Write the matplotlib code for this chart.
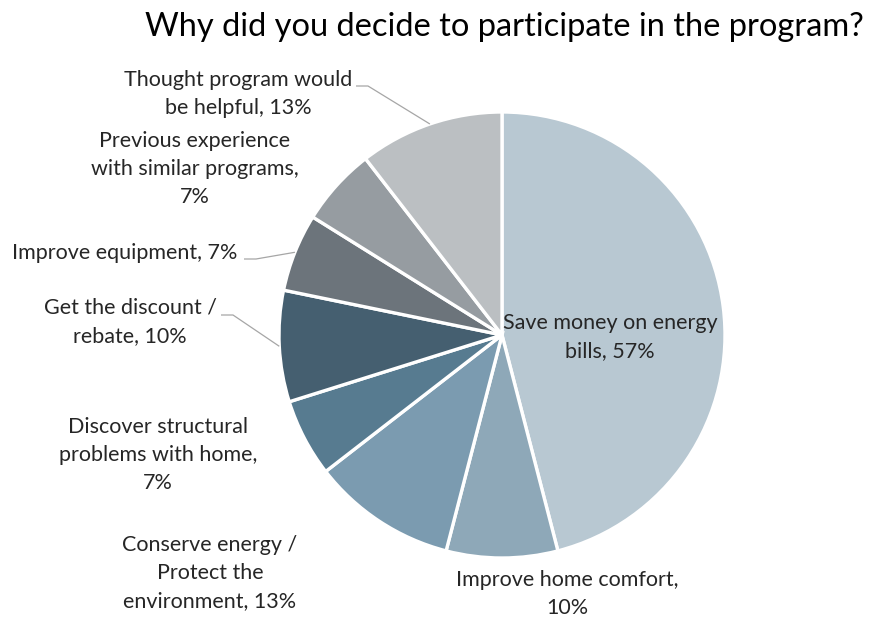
import numpy as np
import matplotlib.pyplot as plt

# survey answers, multiple responses allowed (shares add up past 100)
reasons = [
    "Save money on energy\nbills",
    "Improve home comfort,\n",
    "Conserve energy /\nProtect the\nenvironment",
    "Discover structural\nproblems with home,\n",
    "Get the discount /\nrebate",
    "Improve equipment",
    "Previous experience\nwith similar programs,\n",
    "Thought program would\nbe helpful",
]
shares = [57, 10, 13, 7, 10, 7, 7, 13]
colors = ["#b8c8d2", "#8ea8b8", "#7b9bb0", "#577b90", "#455f70",
          "#6c747b", "#969ca1", "#bbbfc2"]

# label anchors in figure pixels (y measured from the top)
label_pos = [(610, 337), (567, 594), (210, 573), (158, 455),
             (130, 322), (125, 253), (195, 169), (238, 94)]
# labels joined to their slice by a thin leader line: (start x, start y)
leaders = {4: (221, 315), 5: (244, 259), 7: (356, 86)}

W, H = 872, 618
cx, cy, r = 502, 335, 223

plt.rcParams["font.family"] = ["Lato", "DejaVu Sans"]
txt_color = "#262626"

fig = plt.figure(figsize=(W / 100, H / 100), dpi=100)
ax = fig.add_axes([0, 0, 1, 1])

ax.pie(shares, colors=colors, startangle=90, counterclock=False,
       center=(cx, H - cy), radius=r,
       wedgeprops=dict(edgecolor="white", linewidth=2.4))
ax.set_xlim(0, W)
ax.set_ylim(0, H)
ax.set_aspect("equal")
ax.axis("off")

total = sum(shares)
cum = np.cumsum([0] + shares)
for i, (name, val) in enumerate(zip(reasons, shares)):
    x, y = label_pos[i]
    if name.endswith("\n"):
        text = f"{name}{val}%"
    else:
        text = f"{name}, {val}%"
    ax.text(x, H - y, text, ha="center", va="center", fontsize=15.5,
            color=txt_color, linespacing=1.5)

    if i in leaders:
        # midpoint of the slice on the rim, clockwise from 12 o'clock
        mid = (cum[i] + cum[i + 1]) / 2 / total * 2 * np.pi
        ex = cx + r * np.sin(mid)
        ey = cy - r * np.cos(mid)
        sx, sy = leaders[i]
        ax.plot([sx, sx + 12, ex], [H - sy, H - sy, H - ey],
                color="#a6a6a6", lw=0.9, solid_capstyle="butt")

fig.text(504 / W, 1 - 27 / H, "Why did you decide to participate in the program?",
         ha="center", va="center", fontsize=23.5, color="#000000")

fig.savefig("out.png", dpi=100)
